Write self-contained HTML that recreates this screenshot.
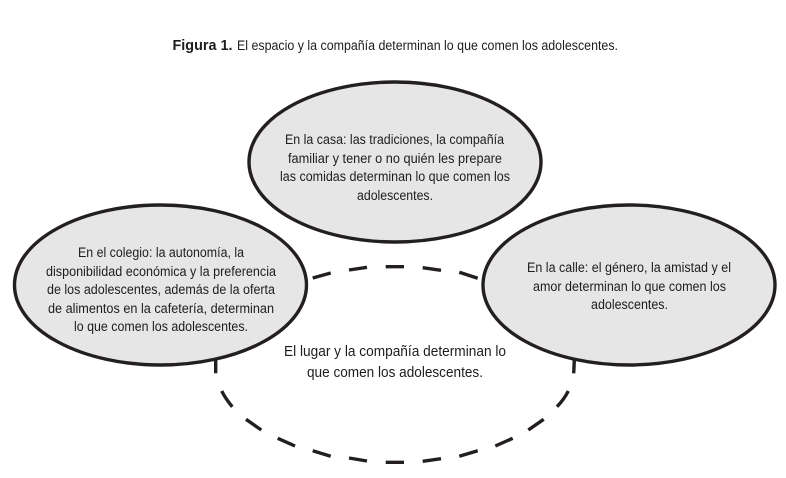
<!DOCTYPE html>
<html lang="es">
<head>
<meta charset="utf-8">
<title>Figura 1</title>
<style>
html,body{margin:0;padding:0;background:#fff;width:786px;height:478px;overflow:hidden}
svg{display:block}
text{font-family:"Liberation Sans",sans-serif;font-size:13.5px;fill:#1f1c1d}
</style>
</head>
<body>
<svg width="786" height="478" viewBox="0 0 786 478" xmlns="http://www.w3.org/2000/svg">
<rect width="786" height="478" fill="#fff"/>

<text x="172.5" y="50" textLength="60" lengthAdjust="spacingAndGlyphs" style="font-weight:bold;font-size:15px">Figura 1.</text>
<text x="237" y="50" textLength="381" lengthAdjust="spacingAndGlyphs">El espacio y la compañía determinan lo que comen los adolescentes.</text>

<g stroke="#231f20" stroke-width="3.4" fill="none">
<path d="M312.7 278L330.7 273M349 270L367 267.3M385.7 266.7L404 266.7M422.7 267.7L441 270.3M459.3 272.3L477.7 278.3"/>
<path d="M215.7 360L215.7 373.3M221.7 391Q226 399.5 232.3 406.7M246 419.3L261.3 430M277.7 438.3L295 446M312.7 450.7L330.7 456.3M349 458L367 461M385.7 462.3L404 462.3M422.7 461.3L441 458.7M459.3 456.3L477.7 450.7M495.3 446L512.7 438.3M528.3 430L543.7 419.3M557 406.7Q564 399.5 568.3 391M574.3 360L573.7 373.3"/>
</g>

<g fill="#e6e6e6" stroke="#231f20" stroke-width="3.4">
<ellipse cx="395" cy="162" rx="146" ry="80"/>
<ellipse cx="160.5" cy="285" rx="146" ry="80"/>
<ellipse cx="629" cy="285" rx="146" ry="80"/>
</g>

<text x="285" y="144" textLength="219" lengthAdjust="spacingAndGlyphs">En la casa: las tradiciones, la compañía</text>
<text x="288" y="163" textLength="214" lengthAdjust="spacingAndGlyphs">familiar y tener o no quién les prepare</text>
<text x="280" y="181" textLength="230" lengthAdjust="spacingAndGlyphs">las comidas determinan lo que comen los</text>
<text x="357" y="200" textLength="76" lengthAdjust="spacingAndGlyphs">adolescentes.</text>

<text x="78" y="257" textLength="166" lengthAdjust="spacingAndGlyphs">En el colegio: la autonomía, la</text>
<text x="46" y="276" textLength="230" lengthAdjust="spacingAndGlyphs">disponibilidad económica y la preferencia</text>
<text x="47" y="294" textLength="228" lengthAdjust="spacingAndGlyphs">de los adolescentes, además de la oferta</text>
<text x="48" y="313" textLength="226" lengthAdjust="spacingAndGlyphs">de alimentos en la cafetería, determinan</text>
<text x="74" y="331" textLength="174" lengthAdjust="spacingAndGlyphs">lo que comen los adolescentes.</text>

<text x="527" y="272" textLength="204" lengthAdjust="spacingAndGlyphs">En la calle: el género, la amistad y el</text>
<text x="533" y="291" textLength="193" lengthAdjust="spacingAndGlyphs">amor determinan lo que comen los</text>
<text x="591" y="309" textLength="77" lengthAdjust="spacingAndGlyphs">adolescentes.</text>

<text x="284" y="356" textLength="222" lengthAdjust="spacingAndGlyphs" style="font-size:15px">El lugar y la compañía determinan lo</text>
<text x="307" y="377" textLength="176" lengthAdjust="spacingAndGlyphs" style="font-size:15px">que comen los adolescentes.</text>
</svg>
</body>
</html>
